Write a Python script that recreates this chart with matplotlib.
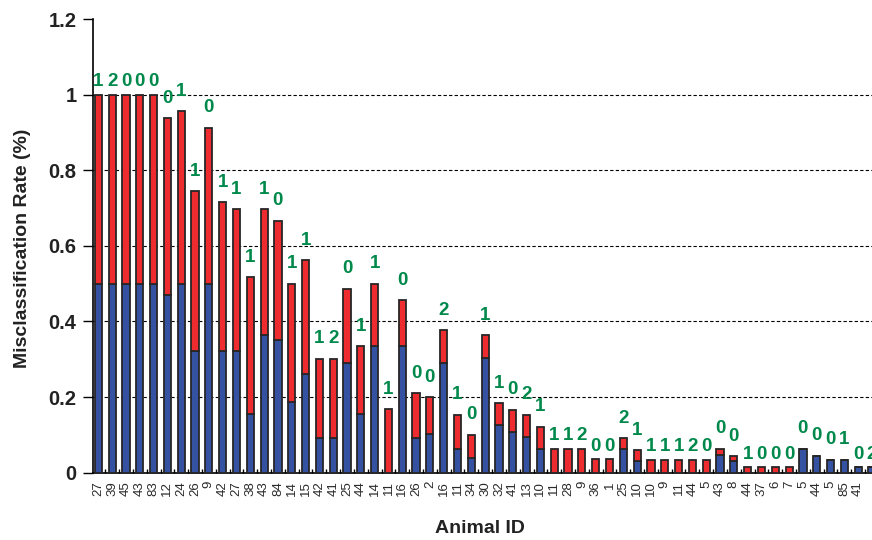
import matplotlib
matplotlib.use("Agg")
import matplotlib.pyplot as plt
import numpy as np

plt.rcParams['font.family'] = ['Liberation Sans', 'DejaVu Sans']

# animal IDs along the x axis (last one is cut by the page edge)
animal_ids = ['27', '39', '45', '43', '83', '12', '24', '26', '9', '42',
              '27', '38', '43', '84', '14', '15', '42', '41', '25', '44',
              '14', '11', '16', '26', '2', '16', '11', '34', '30', '32',
              '41', '13', '10', '11', '28', '9', '36', '1', '25', '10',
              '10', '9', '11', '44', '5', '43', '8', '44', '37', '6',
              '7', '5', '44', '5', '85', '41', '']

# total misclassification rate per animal
total_rate = [1.0, 1.0, 1.0, 1.0, 1.0, 0.938, 0.956, 0.745, 0.912, 0.715,
              0.697, 0.517, 0.697, 0.666, 0.5, 0.562, 0.302, 0.302, 0.487, 0.334,
              0.5, 0.168, 0.456, 0.21, 0.2, 0.377, 0.153, 0.1, 0.364, 0.184,
              0.166, 0.153, 0.122, 0.063, 0.063, 0.063, 0.036, 0.036, 0.091, 0.06,
              0.034, 0.034, 0.034, 0.034, 0.034, 0.063, 0.044, 0.014, 0.014, 0.014,
              0.014, 0.063, 0.045, 0.034, 0.034, 0.014, 0.014]

# part of the rate drawn in blue (bottom segment)
blue_rate = [0.5, 0.5, 0.5, 0.5, 0.5, 0.471, 0.5, 0.323, 0.5, 0.323,
             0.323, 0.155, 0.365, 0.352, 0.187, 0.261, 0.093, 0.093, 0.29, 0.155,
             0.334, 0.0, 0.334, 0.093, 0.102, 0.29, 0.063, 0.038, 0.303, 0.125,
             0.107, 0.094, 0.063, 0.0, 0.0, 0.0, 0.0, 0.0, 0.063, 0.031,
             0.0, 0.0, 0.0, 0.0, 0.0, 0.047, 0.031, 0.0, 0.0, 0.0,
             0.0, 0.063, 0.045, 0.034, 0.034, 0.014, 0.014]

# count printed above each bar
counts = [1, 2, 0, 0, 0, 0, 1, 1, 0, 1,
          1, 1, 1, 0, 1, 1, 1, 2, 0, 1,
          1, 1, 0, 0, 0, 2, 1, 0, 1, 1,
          0, 2, 1, 1, 1, 2, 0, 0, 2, 1,
          1, 1, 1, 2, 0, 0, 0, 1, 0, 0,
          0, 0, 0, 0, 1, 0, 2]

total_rate = np.array(total_rate)
blue_rate = np.array(blue_rate)
red_rate = total_rate - blue_rate
x = np.arange(len(animal_ids))

fig = plt.figure(figsize=(8.72, 5.4), dpi=100)
ax = fig.add_axes([0.1067, 0.1246, 0.8933, 0.8402])

edge = '#262626'
ax.bar(x, blue_rate, width=0.52, color='#3552A2', edgecolor=edge, linewidth=1.3, zorder=3)
ax.bar(x, red_rate, bottom=blue_rate, width=0.52, color='#EE2B2F',
       edgecolor=edge, linewidth=1.3, zorder=3)

# labels sitting closer to the bar top
close = {0, 1, 2, 3, 4, 33, 34, 35, 36, 37, 40, 41, 42, 43, 44, 47, 48, 49, 50, 55, 56}
for i, (xi, top, c) in enumerate(zip(x, total_rate, counts)):
    gap = 13 if i in close else 20
    ax.annotate(str(c), (xi, top), xytext=(0, gap * 0.72), textcoords='offset points',
                ha='center', va='center', fontsize=13.5, fontweight='bold',
                color='#00894B', annotation_clip=False, zorder=4)

ax.set_ylim(0, 1.2)
ax.set_xlim(-0.383, 55.9)
ax.set_yticks([0, 0.2, 0.4, 0.6, 0.8, 1.0, 1.2])
ax.set_yticklabels(['0', '0.2', '0.4', '0.6', '0.8', '1', '1.2'],
                   fontsize=14.5, fontweight='bold', color='#222222')
ax.tick_params(axis='y', direction='out', length=7, width=1, pad=5)

ax.set_xticks(x)
ax.set_xticklabels(animal_ids, rotation=90, fontsize=9.5, color='#2a2a2a')
ax.tick_params(axis='x', which='major', length=0, pad=6)
ax.set_xticks(x[:-1] + 0.5, minor=True)
ax.tick_params(axis='x', which='minor', direction='in', length=3, width=1)

for yv in [0.2, 0.4, 0.6, 0.8, 1.0]:
    ax.axhline(yv, color='black', linestyle=(0, (3, 2)), linewidth=0.8, zorder=1)

ax.spines['top'].set_visible(False)
ax.spines['right'].set_visible(False)
ax.spines['left'].set_linewidth(1.2)
ax.spines['bottom'].set_linewidth(1.2)

ax.set_ylabel('Misclassification Rate (%)', fontsize=14, fontweight='bold', color='#222222')
ax.yaxis.set_label_coords(-0.080, 0.494)
ax.set_xlabel('Animal ID', fontsize=14, fontweight='bold', color='#222222')
ax.xaxis.set_label_coords(0.497, -0.104)

fig.savefig('out.png', dpi=100)
